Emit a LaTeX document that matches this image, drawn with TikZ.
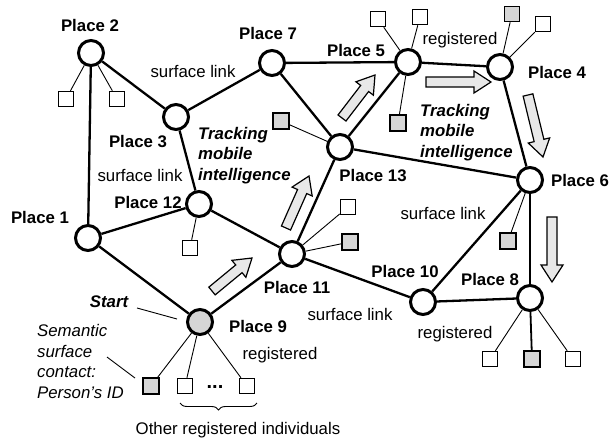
\documentclass[tikz,border=0pt]{standalone}
\usepackage{fontspec}
\setmainfont{Liberation Sans}
\usetikzlibrary{calc,decorations.pathreplacing}
\definecolor{sqgray}{HTML}{D6D6D6}
\definecolor{arrgray}{HTML}{E8E8E8}
\newcommand{\blockarr}[2]{%
  \coordinate (ah) at ($(#2)!17pt!(#1)$);
  \filldraw[blockarrow] ($(#1)!5pt!90:(#2)$) -- ($(ah)!5pt!90:(#2)$) -- ($(ah)!11pt!90:(#2)$) -- (#2)
    -- ($(ah)!11pt!-90:(#2)$) -- ($(ah)!5pt!-90:(#2)$) -- ($(#1)!5pt!-90:(#2)$) -- cycle;}
\begin{document}
\begin{tikzpicture}[x=1pt,y=-1pt,
  place/.style={circle,draw,line width=3pt,fill=white,minimum size=25pt,inner sep=0pt},
  edge/.style={line width=2.3pt},
  thinline/.style={line width=0.9pt},
  wsq/.style={rectangle,draw,line width=1pt,fill=white,minimum size=15.5pt,inner sep=0pt},
  gsq/.style={wsq,fill=sqgray,line width=2pt},
  lbl/.style={font=\fontsize{16.8}{20}\selectfont\bfseries,inner sep=0pt},
  txt/.style={font=\fontsize{16.8}{20}\selectfont,inner sep=0pt},
  itxt/.style={font=\fontsize{16.8}{20.7}\selectfont\itshape,inner sep=0pt,align=left},
  bitxt/.style={font=\fontsize{16.8}{20.5}\selectfont\bfseries\itshape,inner sep=0pt,align=left},
  blockarrow/.style={draw=black,line width=1.2pt,fill=arrgray,line join=miter}]
\useasboundingbox (0,0) rectangle (611,439);
% places
\node[place] (p2) at (91,53) {};
\node[place] (p3) at (176,117) {};
\node[place] (p7) at (272,63) {};
\node[place] (p5) at (408,62) {};
\node[place] (p4) at (500,67) {};
\node[place] (p13) at (340,147) {};
\node[place] (p12) at (199,204) {};
\node[place] (p1) at (88,238) {};
\node[place] (p11) at (292,254) {};
\node[place] (p6) at (530,180) {};
\node[place] (p10) at (423,302) {};
\node[place] (p8) at (530,298) {};
\node[place,fill=sqgray] (p9) at (200,322) {};
% squares
\node[wsq] (s2a) at (66,99) {};
\node[wsq] (s2b) at (117,99) {};
\node[wsq] (s12) at (190,248) {};
\node[gsq] (s13) at (281,121) {};
\node[wsq] (s5a) at (378,19) {};
\node[wsq] (s5b) at (420,17) {};
\node[gsq] (s5c) at (398,123) {};
\node[gsq,line width=1pt] (s4a) at (512,14) {};
\node[wsq] (s4b) at (543,24) {};
\node[wsq] (s11a) at (348,207) {};
\node[gsq] (s11b) at (350,242) {};
\node[gsq] (s6) at (508,241) {};
\node[wsq] (s8a) at (490,359) {};
\node[gsq,line width=2.4pt] (s8b) at (532,359) {};
\node[wsq] (s8c) at (573,359) {};
\node[gsq,line width=2.4pt] (s9a) at (151,386) {};
\node[wsq] (s9b) at (185,386) {};
\node[wsq] (s9c) at (247,386) {};
% edges
\draw[edge] (p2) -- (p1);
\draw[edge] (p2) -- (p3);
\draw[edge] (p3) -- (p7);
\draw[edge] (p3) -- (p12);
\draw[edge] (p7) -- (p5);
\draw[edge] (p7) -- (p13);
\draw[edge] (p5) -- (p4);
\draw[edge] (p5) -- (p13);
\draw[edge] (p4) -- (p6);
\draw[edge] (p13) -- (p6);
\draw[edge] (p13) -- (p11);
\draw[edge] (p12) -- (p1);
\draw[edge] (p12) -- (p11);
\draw[edge] (p1) -- (p9);
\draw[edge] (p9) -- (p11);
\draw[edge] (p11) -- (p10);
\draw[edge] (p10) -- (p8);
\draw[edge] (p10) -- (p6);
\draw[edge] (p6) -- (p8);
% thin links
\draw[thinline] (p2) -- (s2a);
\draw[thinline] (p2) -- (s2b);
\draw[thinline] (p12) -- (s12);
\draw[thinline] (p13) -- (s13);
\draw[thinline] (p5) -- (s5a);
\draw[thinline] (p5) -- (s5b);
\draw[thinline] (p5) -- (s5c);
\draw[thinline] (p4) -- (s4a);
\draw[thinline] (p4) -- (s4b);
\draw[thinline] (p11) -- (s11a);
\draw[thinline] (p11) -- (s11b);
\draw[thinline] (p6) -- (s6);
\draw[thinline] (p8) -- (s8a);
\draw[line width=1.8pt] (p8) -- (s8b);
\draw[thinline] (p8) -- (s8c);
\draw[thinline] (p9) -- (s9a);
\draw[thinline] (p9) -- (s9b);
\draw[thinline] (p9) -- (s9c);
% block arrows
\coordinate (a1s) at (212,291); \coordinate (a1e) at (252,258);
\coordinate (a2s) at (286,228); \coordinate (a2e) at (309,176);
\coordinate (a3s) at (342,118); \coordinate (a3e) at (375,75);
\coordinate (a4s) at (426,82);  \coordinate (a4e) at (491,82);
\coordinate (a5s) at (528,95);  \coordinate (a5e) at (543,157);
\coordinate (a6s) at (552,217); \coordinate (a6e) at (552,282);
\blockarr{a1s}{a1e}
\blockarr{a2s}{a2e}
\blockarr{a3s}{a3e}
\blockarr{a4s}{a4e}
\blockarr{a5s}{a5e}
\blockarr{a6s}{a6e}
% place labels
\node[lbl] (l2) at (90,25) {Place 2};
\node[lbl] (l3) at (138,142) {Place 3};
\node[lbl] (l7) at (268,33) {Place 7};
\node[lbl] (l5) at (356,50) {Place 5};
\node[lbl] (l4) at (557,72) {Place 4};
\node[lbl] (l13) at (373,176) {Place 13};
\node[lbl] (l12) at (148,202) {Place 12};
\node[lbl] (l1) at (40,217) {Place 1};
\node[lbl] (l6) at (580,180) {Place 6};
\node[lbl] (l10) at (405,271) {Place 10};
\node[lbl] (l8) at (490,279) {Place 8};
\node[lbl] (l11) at (297,287) {Place 11};
\node[lbl] (l9) at (258,326) {Place 9};
% other texts
\node[txt] (sl1) at (193,71) {surface link};
\node[txt] (sl2) at (140,175) {surface link};
\node[txt] (sl3) at (350,314) {surface link};
\node[txt] (sl4) at (443,213) {surface link};
\node[txt] (rg1) at (460,40) {registered};
\node[txt] (rg2) at (455,334) {registered};
\node[txt] (rg3) at (280,355) {registered};
\node[bitxt,anchor=north west] (tr1) at (198,127) {Tracking\\mobile\\intelligence};
\node[bitxt,anchor=north west] (tr2) at (420,104) {Tracking\\mobile\\intelligence};
\node[bitxt] (start) at (109,302) {Start};
\node[itxt,anchor=north west] (sem) at (37,324) {Semantic\\surface\\contact:\\Person’s ID};
\node[lbl,anchor=base,font=\fontsize{20}{20}\selectfont\bfseries] (dots) at (215,388) {...};
\node[txt] (other) at (238,430) {Other registered individuals};
% pointer lines
\coordinate (st1) at (137,308); \coordinate (st2) at (177,319);
\coordinate (se1) at (107,357); \coordinate (se2) at (135,378);
\draw[thinline] (st1) -- (st2);
\draw[thinline] (se1) -- (se2);
% brace
\coordinate (br1) at (257,403); \coordinate (br2) at (180,403);
\draw[thinline,decorate,decoration={brace,amplitude=7pt}] (br1) -- (br2);
\end{tikzpicture}
\end{document}
